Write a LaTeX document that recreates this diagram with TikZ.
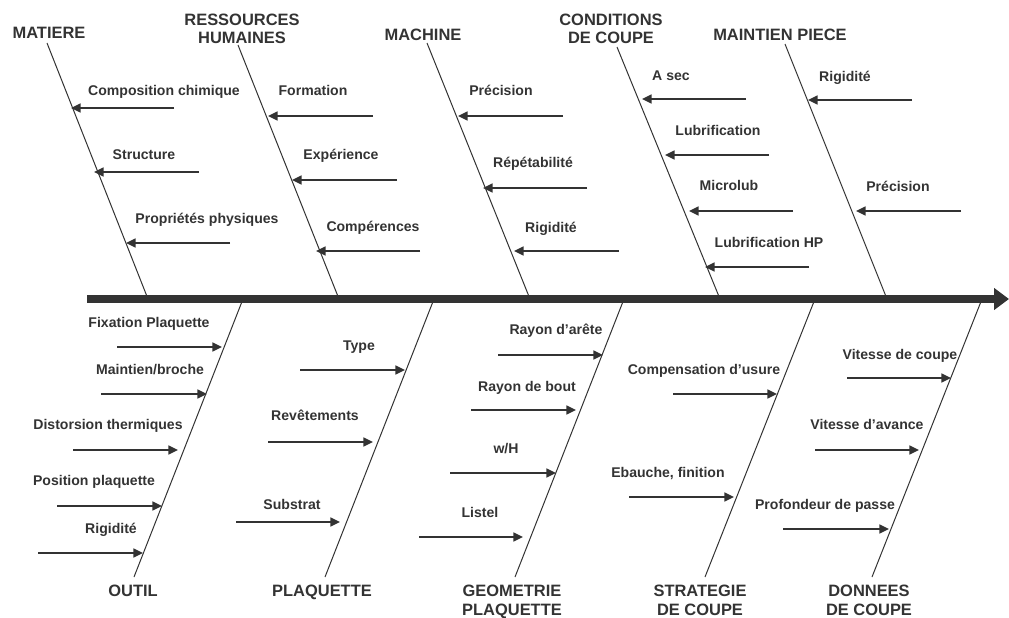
\documentclass[tikz,border=0pt]{standalone}
\usepackage{fontspec}
\setmainfont{Liberation Sans}[BoldFont={Liberation Sans Bold}]
\usetikzlibrary{arrows.meta}
\definecolor{inkgray}{HTML}{333333}
\tikzset{
  spine/.style={line width=0.2cm, draw=inkgray, -{Triangle[length=0.375cm,width=0.53cm]}},
  bone/.style={line width=0.025cm, draw=inkgray},
  branch/.style={line width=0.05cm, draw=inkgray, -{Triangle[length=0.24cm,width=0.22cm]}},
  cause/.style={font=\fontsize{11.7}{13.5}\selectfont\bfseries, text=inkgray, inner sep=0pt, anchor=base, align=center},
  factor/.style={font=\fontsize{10}{12}\selectfont\bfseries, text=inkgray, inner sep=0pt, anchor=base}
}
\begin{document}
\begin{tikzpicture}[x=0.025cm, y=-0.025cm]
            \useasboundingbox (0,0) rectangle (1009,618);

            % Drawing the spine
            \coordinate (spineS) at (87,299);
            \coordinate (spineE) at (1009,299);
            \draw [spine] (spineS) -- (spineE);%

            % Marking upper causes (two-line ones sit on their last line)
            \draw (49,38) node (matiere) [cause] {MATIERE};%
            \draw (242,44) node (ressources) [cause] {RESSOURCES\\HUMAINES};%
            \draw (423,40) node (machine) [cause] {MACHINE};%
            \draw (611,44) node (conditions) [cause] {CONDITIONS\\DE COUPE};%
            \draw (780,40) node (maintien) [cause] {MAINTIEN PIECE};%

            % Marking lower causes
            \draw (133,596) node (outil) [cause] {OUTIL};%
            \draw (322,596) node (plaquette) [cause] {PLAQUETTE};%
            \draw (512,615) node (geometrie) [cause] {GEOMETRIE\\PLAQUETTE};%
            \draw (700,615) node (strategie) [cause] {STRATEGIE\\DE COUPE};%
            \draw (869,615) node (donnees) [cause] {DONNEES\\DE COUPE};%

            % Drawing bones
            \coordinate (matiereT) at (47,43);    \coordinate (matiereB) at (148,299);
            \coordinate (ressourcesT) at (238,45); \coordinate (ressourcesB) at (339,299);
            \coordinate (machineT) at (427,43);   \coordinate (machineB) at (530,299);
            \coordinate (conditionsT) at (617,47); \coordinate (conditionsB) at (720,299);
            \coordinate (maintienT) at (785,44);  \coordinate (maintienB) at (887,299);
            \coordinate (outilT) at (243,299);    \coordinate (outilB) at (134,577);
            \coordinate (plaquetteT) at (434,299); \coordinate (plaquetteB) at (325,577);
            \coordinate (geometrieT) at (624,299); \coordinate (geometrieB) at (515,577);
            \coordinate (strategieT) at (815,299); \coordinate (strategieB) at (705,577);
            \coordinate (donneesT) at (982,299);  \coordinate (donneesB) at (872,577);
            \draw [bone] (matiereT) -- (matiereB);%
            \draw [bone] (ressourcesT) -- (ressourcesB);%
            \draw [bone] (machineT) -- (machineB);%
            \draw [bone] (conditionsT) -- (conditionsB);%
            \draw [bone] (maintienT) -- (maintienB);%
            \draw [bone] (outilT) -- (outilB);%
            \draw [bone] (plaquetteT) -- (plaquetteB);%
            \draw [bone] (geometrieT) -- (geometrieB);%
            \draw [bone] (strategieT) -- (strategieB);%
            \draw [bone] (donneesT) -- (donneesB);%

            % Drawing branches of MATIERE
            \coordinate (compoS) at (174,108); \coordinate (compoE) at (71,108);
            \coordinate (structS) at (199,172); \coordinate (structE) at (94,172);
            \coordinate (proprS) at (230,243); \coordinate (proprE) at (126,243);
            \draw [branch] (compoS) -- (compoE);%
            \draw [branch] (structS) -- (structE);%
            \draw [branch] (proprS) -- (proprE);%
            \draw (164,95) node (compo) [factor] {Composition chimique};%
            \draw (144,159) node (struct) [factor] {Structure};%
            \draw (207,223) node (propr) [factor] {Propriétés physiques};%

            % Drawing branches of RESSOURCES HUMAINES
            \coordinate (formaS) at (373,116); \coordinate (formaE) at (268,116);
            \coordinate (experS) at (397,180); \coordinate (experE) at (292,180);
            \coordinate (competS) at (420,251); \coordinate (competE) at (316,251);
            \draw [branch] (formaS) -- (formaE);%
            \draw [branch] (experS) -- (experE);%
            \draw [branch] (competS) -- (competE);%
            \draw (313,95) node (forma) [factor] {Formation};%
            \draw (341,159) node (exper) [factor] {Expérience};%
            \draw (373,231) node (compet) [factor] {Compérences};%

            % Drawing branches of MACHINE
            \coordinate (precmS) at (563,116); \coordinate (precmE) at (458,116);
            \coordinate (repetS) at (587,188); \coordinate (repetE) at (483,188);
            \coordinate (rigmS) at (619,251); \coordinate (rigmE) at (514,251);
            \draw [branch] (precmS) -- (precmE);%
            \draw [branch] (repetS) -- (repetE);%
            \draw [branch] (rigmS) -- (rigmE);%
            \draw (501,95) node (precm) [factor] {Précision};%
            \draw (533,167) node (repet) [factor] {Répétabilité};%
            \draw (551,232) node (rigm) [factor] {Rigidité};%

            % Drawing branches of CONDITIONS DE COUPE
            \coordinate (asecS) at (746,99); \coordinate (asecE) at (642,99);
            \coordinate (lubriS) at (769,155); \coordinate (lubriE) at (665,155);
            \coordinate (microS) at (793,211); \coordinate (microE) at (689,211);
            \coordinate (lubhpS) at (809,267); \coordinate (lubhpE) at (705,267);
            \draw [branch] (asecS) -- (asecE);%
            \draw [branch] (lubriS) -- (lubriE);%
            \draw [branch] (microS) -- (microE);%
            \draw [branch] (lubhpS) -- (lubhpE);%
            \draw (671,80) node (asec) [factor] {A sec};%
            \draw (718,135) node (lubri) [factor] {Lubrification};%
            \draw (729,190) node (micro) [factor] {Microlub};%
            \draw (769,247) node (lubhp) [factor] {Lubrification HP};%

            % Drawing branches of MAINTIEN PIECE
            \coordinate (rigpS) at (912,100); \coordinate (rigpE) at (808,100);
            \coordinate (precpS) at (961,211); \coordinate (precpE) at (856,211);
            \draw [branch] (rigpS) -- (rigpE);%
            \draw [branch] (precpS) -- (precpE);%
            \draw (845,81) node (rigp) [factor] {Rigidité};%
            \draw (898,191) node (precp) [factor] {Précision};%

            % Drawing branches of OUTIL
            \coordinate (fixatS) at (117,347); \coordinate (fixatE) at (222,347);
            \coordinate (maintS) at (101,394); \coordinate (maintE) at (207,394);
            \coordinate (distoS) at (73,450); \coordinate (distoE) at (178,450);
            \coordinate (positS) at (57,506); \coordinate (positE) at (162,506);
            \coordinate (rigoS) at (38,553); \coordinate (rigoE) at (143,553);
            \draw [branch] (fixatS) -- (fixatE);%
            \draw [branch] (maintS) -- (maintE);%
            \draw [branch] (distoS) -- (distoE);%
            \draw [branch] (positS) -- (positE);%
            \draw [branch] (rigoS) -- (rigoE);%
            \draw (149,327) node (fixat) [factor] {Fixation Plaquette};%
            \draw (150,374) node (maint) [factor] {Maintien/broche};%
            \draw (108,429) node (disto) [factor] {Distorsion thermiques};%
            \draw (94,485) node (posit) [factor] {Position plaquette};%
            \draw (111,533) node (rigo) [factor] {Rigidité};%

            % Drawing branches of PLAQUETTE
            \coordinate (typeS) at (300,370); \coordinate (typeE) at (405,370);
            \coordinate (revetS) at (268,442); \coordinate (revetE) at (373,442);
            \coordinate (substS) at (236,522); \coordinate (substE) at (340,522);
            \draw [branch] (typeS) -- (typeE);%
            \draw [branch] (revetS) -- (revetE);%
            \draw [branch] (substS) -- (substE);%
            \draw (359,350) node (type) [factor] {Type};%
            \draw (315,420) node (revet) [factor] {Revêtements};%
            \draw (292,509) node (subst) [factor] {Substrat};%

            % Drawing branches of GEOMETRIE PLAQUETTE
            \coordinate (rayarS) at (498,355); \coordinate (rayarE) at (603,355);
            \coordinate (raybS) at (471,410); \coordinate (raybE) at (576,410);
            \coordinate (whS) at (450,473); \coordinate (whE) at (556,473);
            \coordinate (listS) at (419,537); \coordinate (listE) at (523,537);
            \draw [branch] (rayarS) -- (rayarE);%
            \draw [branch] (raybS) -- (raybE);%
            \draw [branch] (whS) -- (whE);%
            \draw [branch] (listS) -- (listE);%
            \draw (556,334) node (rayar) [factor] {Rayon d’arête};%
            \draw (527,391) node (rayb) [factor] {Rayon de bout};%
            \draw (506,453) node (wh) [factor] {w/H};%
            \draw (480,517) node (list) [factor] {Listel};%

            % Drawing branches of STRATEGIE DE COUPE
            \coordinate (compuS) at (673,394); \coordinate (compuE) at (777,394);
            \coordinate (ebauS) at (629,497); \coordinate (ebauE) at (734,497);
            \draw [branch] (compuS) -- (compuE);%
            \draw [branch] (ebauS) -- (ebauE);%
            \draw (704,374) node (compu) [factor] {Compensation d’usure};%
            \draw (668,477) node (ebau) [factor] {Ebauche, finition};%

            % Drawing branches of DONNEES DE COUPE
            \coordinate (vitcS) at (847,378); \coordinate (vitcE) at (951,378);
            \coordinate (vitaS) at (815,450); \coordinate (vitaE) at (919,450);
            \coordinate (profS) at (783,529); \coordinate (profE) at (889,529);
            \draw [branch] (vitcS) -- (vitcE);%
            \draw [branch] (vitaS) -- (vitaE);%
            \draw [branch] (profS) -- (profE);%
            \draw (900,359) node (vitc) [factor] {Vitesse de coupe};%
            \draw (867,429) node (vita) [factor] {Vitesse d’avance};%
            \draw (825,509) node (prof) [factor] {Profondeur de passe};%
\end{tikzpicture}
\end{document}
